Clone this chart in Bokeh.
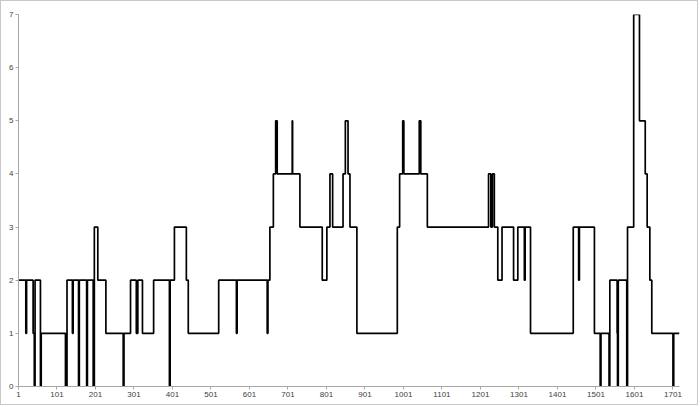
from bokeh.plotting import figure
from bokeh.models import FixedTicker, Range1d
from bokeh.embed import file_html
from bokeh.resources import INLINE

# Run-length description of the series: category where each level starts, and the level
starts = [1, 20, 22, 39, 42, 44, 58, 60, 123, 127, 141, 143, 157, 159, 178, 180, 195, 198,
          207, 228, 273, 275, 292, 307, 311, 323, 352, 393, 395, 406, 437, 442, 521, 567,
          569, 647, 649, 654, 663, 669, 673, 712, 713, 732, 790, 802, 810, 817, 844, 850,
          857, 862, 880, 985, 991, 999, 1002, 1042, 1046, 1063, 1222, 1228, 1232, 1237,
          1246, 1257, 1287, 1298, 1315, 1317, 1331, 1442, 1456, 1458, 1497, 1512, 1514,
          1535, 1537, 1556, 1557, 1559, 1581, 1583, 1599, 1614, 1629, 1634, 1641, 1646,
          1701, 1703]
levels = [2, 1, 2, 1, 0, 2, 0, 1, 0, 2, 1, 2, 0, 2, 0, 2, 0, 3,
          2, 1, 0, 1, 2, 1, 2, 1, 2, 0, 2, 3, 2, 1, 2, 1,
          2, 1, 2, 3, 4, 5, 4, 5, 4, 3, 2, 3, 4, 3, 4, 5,
          4, 3, 1, 3, 4, 5, 4, 5, 4, 3, 4, 3, 4, 3,
          2, 3, 2, 3, 2, 3, 1, 3, 2, 3, 1, 0, 1,
          0, 2, 1, 0, 2, 0, 3, 7, 5, 4, 3, 2, 1,
          0, 1]
last_category = 1718

x_ticks = [1, 101, 201, 301, 401, 501, 601, 701, 801, 901, 1001, 1101, 1201, 1301, 1401,
           1501, 1601, 1701]
y_ticks = [0, 1, 2, 3, 4, 5, 6, 7]

xs = starts + [last_category]
ys = levels + [levels[-1]]

p = figure(width=698, height=405, output_backend="svg", toolbar_location=None,
           x_range=Range1d(1, last_category), y_range=Range1d(0, 7),
           min_border_left=17, min_border_right=20, min_border_top=13, min_border_bottom=20,
           styles={"border": "1px solid #c8c8c8"})
p.outline_line_color = None
p.xgrid.visible = False
p.ygrid.visible = False

p.step(xs, ys, mode="after", line_color="#000000", line_width=1.7)

for ax in (p.xaxis[0], p.yaxis[0]):
    ax.axis_line_color = "#a6a6a6"
    ax.major_tick_line_color = "#a6a6a6"
    ax.minor_tick_line_color = None
    ax.major_tick_out = 3
    ax.major_tick_in = 0
    ax.major_label_text_font = "Liberation Sans"
    ax.major_label_text_font_size = "8px"
    ax.major_label_text_color = "#404040"
    ax.major_label_standoff = 2

p.xaxis[0].ticker = FixedTicker(ticks=x_ticks)
p.yaxis[0].ticker = FixedTicker(ticks=y_ticks)

open("out.html", "w").write(file_html(p, INLINE))
